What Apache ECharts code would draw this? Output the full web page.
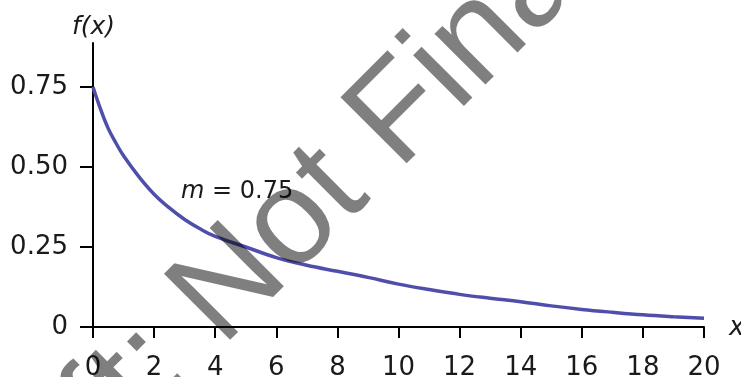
<!DOCTYPE html>
<html><head><meta charset="utf-8">
<script src="https://cdn.jsdelivr.net/npm/echarts@6/dist/echarts.min.js"></script>
<style>html,body{margin:0;padding:0;background:#fff}#c{width:741px;height:377px}</style>
</head><body><div id="c"></div>
<script>
// Data
const xValues = [0, 0.25, 0.5, 0.75, 1, 1.5, 2, 2.5, 3, 3.5, 4, 5, 6, 7, 8, 9, 10, 11, 12, 13, 14, 15, 16, 17, 18, 19, 20];
const fValues = [0.75, 0.68, 0.62, 0.575, 0.535, 0.47, 0.415, 0.372, 0.336, 0.307, 0.283, 0.25, 0.217, 0.193, 0.174, 0.155, 0.134, 0.117, 0.102, 0.09, 0.079, 0.066, 0.055, 0.046, 0.038, 0.032, 0.027];
const xTicks = [0, 2, 4, 6, 8, 10, 12, 14, 16, 18, 20];
const yTicks = [0, 0.25, 0.5, 0.75];
const yTickLabels = ['0', '0.25', '0.50', '0.75'];
const yAxisName = 'f(x)';
const xAxisName = 'x';
const curveLabelVar = 'm';
const curveLabelRest = ' = 0.75';
const watermark = 'Draft: Not Final';

const FONT = '"DejaVu Sans", sans-serif';
const WFONT = '"Liberation Sans", Arial, sans-serif';
const chart = echarts.init(document.getElementById('c'), null, {renderer: 'canvas'});
const pts = xValues.map((x, i) => [x, fValues[i]]);

chart.setOption({
  animation: false,
  backgroundColor: '#fff',
  grid: {left: 93, right: 37, top: 43, bottom: 50, containLabel: false, outerBoundsMode: 'none'},
  xAxis: {
    type: 'value', min: xTicks[0], max: xTicks[xTicks.length - 1], interval: 2,
    axisLine: {lineStyle: {color: '#000', width: 2}},
    axisTick: {show: true, inside: false, length: 11, lineStyle: {color: '#000', width: 2}},
    axisLabel: {fontSize: 26, color: '#1a1a1a', fontFamily: FONT, margin: 28},
    splitLine: {show: false}
  },
  yAxis: {
    type: 'value', min: 0, max: 0.8875, interval: 0.25,
    axisLine: {show: true, lineStyle: {color: '#000', width: 2}},
    axisTick: {show: true, inside: false, length: 13, lineStyle: {color: '#000', width: 2}, customValues: yTicks},
    axisLabel: {
      fontSize: 26, color: '#1a1a1a', fontFamily: FONT, margin: 25, customValues: yTicks,
      formatter: v => { const i = yTicks.findIndex(t => Math.abs(t - v) < 1e-9); return i >= 0 ? yTickLabels[i] : ''; }
    },
    splitLine: {show: false}
  },
  series: [{
    type: 'line', data: pts, smooth: 0.4, showSymbol: false,
    lineStyle: {color: '#4f4fab', width: 3.5}, z: 3
  }],
  graphic: [
    {type: 'text', left: 72, top: 15, z: 10,
     style: {text: yAxisName, font: 'oblique 25px ' + FONT, fill: '#1a1a1a'}},
    {type: 'text', left: 729, top: 315, z: 10,
     style: {text: xAxisName, font: 'oblique 26px ' + FONT, fill: '#1a1a1a'}},
    {type: 'text', left: 181, top: 180, z: 10,
     style: {text: '{i|' + curveLabelVar + '}{n|' + curveLabelRest + '}',
       rich: {i: {font: 'oblique 24px ' + FONT, fill: '#1a1a1a'}, n: {font: '24px ' + FONT, fill: '#1a1a1a'}}}},
    {type: 'text', x: -66, y: 583, rotation: Math.PI / 4, z: 100, silent: true,
     style: {text: watermark, font: '136px ' + WFONT, fill: 'rgba(0,0,0,0.5)', textAlign: 'left', textVerticalAlign: 'middle'}}
  ]
});
</script></body></html>
